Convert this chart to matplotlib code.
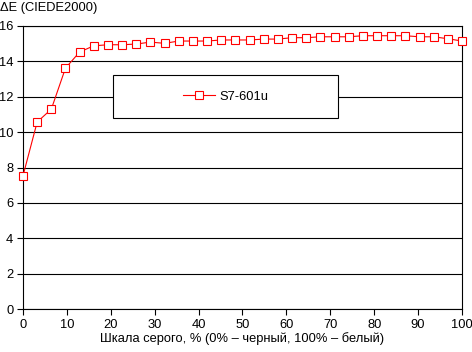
import matplotlib
matplotlib.use("Agg")
import matplotlib.pyplot as plt
from matplotlib.patches import Rectangle

plt.rcParams["font.family"] = ["Liberation Sans", "DejaVu Sans"]

# Grey level steps (32 points, 0..100 %)
n_points = 32
gray_pct = [i * 100 / (n_points - 1) for i in range(n_points)]
delta_e = [7.53, 10.57, 11.30, 13.62, 14.53, 14.88, 14.94, 14.94,
           14.98, 15.09, 15.02, 15.15, 15.15, 15.15, 15.21, 15.21,
           15.21, 15.26, 15.26, 15.34, 15.34, 15.39, 15.39, 15.39,
           15.45, 15.45, 15.45, 15.45, 15.39, 15.39, 15.28, 15.15]
series_name = "S7-601u"
x_ticks = list(range(0, 101, 10))
y_ticks = list(range(0, 17, 2))

fs = 9.3

fig = plt.figure(figsize=(4.72, 3.52), dpi=100)
ax = fig.add_axes([23 / 472, 1 - 309 / 352, 439 / 472, 283 / 352])

ax.plot(gray_pct, delta_e, color="red", linewidth=0.8,
        marker="s", markersize=5.2, markerfacecolor="white",
        markeredgecolor="red", markeredgewidth=0.8,
        label=series_name, clip_on=False, zorder=3)

ax.set_xlim(0, 100)
ax.set_ylim(0, 16)
ax.set_xticks(x_ticks)
ax.set_yticks(y_ticks)
ax.tick_params(direction="out", length=4, width=0.8, color="black",
               labelsize=fs, pad=3)
ax.yaxis.grid(True, color="black", linewidth=0.8)
ax.set_axisbelow(True)
for side in ["left", "right", "bottom", "top"]:
    ax.spines[side].set_linewidth(0.8)
    ax.spines[side].set_color("black")

ax.set_xlabel("Шкала серого, % (0% – черный, 100% – белый)", fontsize=fs, labelpad=1)
fig.text(0.0, 1 - 8 / 352, "ΔE (CIEDE2000)", fontsize=fs, va="center", ha="left")

# legend box (fixed size), content centred inside
box = Rectangle((113 / 472, 1 - 118 / 352), 225 / 472, 43 / 352,
                transform=fig.transFigure, facecolor="white",
                edgecolor="black", linewidth=0.8, zorder=4, clip_on=False)
ax.add_patch(box)
leg = ax.legend(loc="center", bbox_to_anchor=(225.5 / 472, 1 - 96.5 / 352),
                bbox_transform=fig.transFigure, frameon=False,
                handlelength=2.5, handletextpad=0.35, fontsize=fs)
leg.set_zorder(6)

fig.savefig("out.png", dpi=100)
